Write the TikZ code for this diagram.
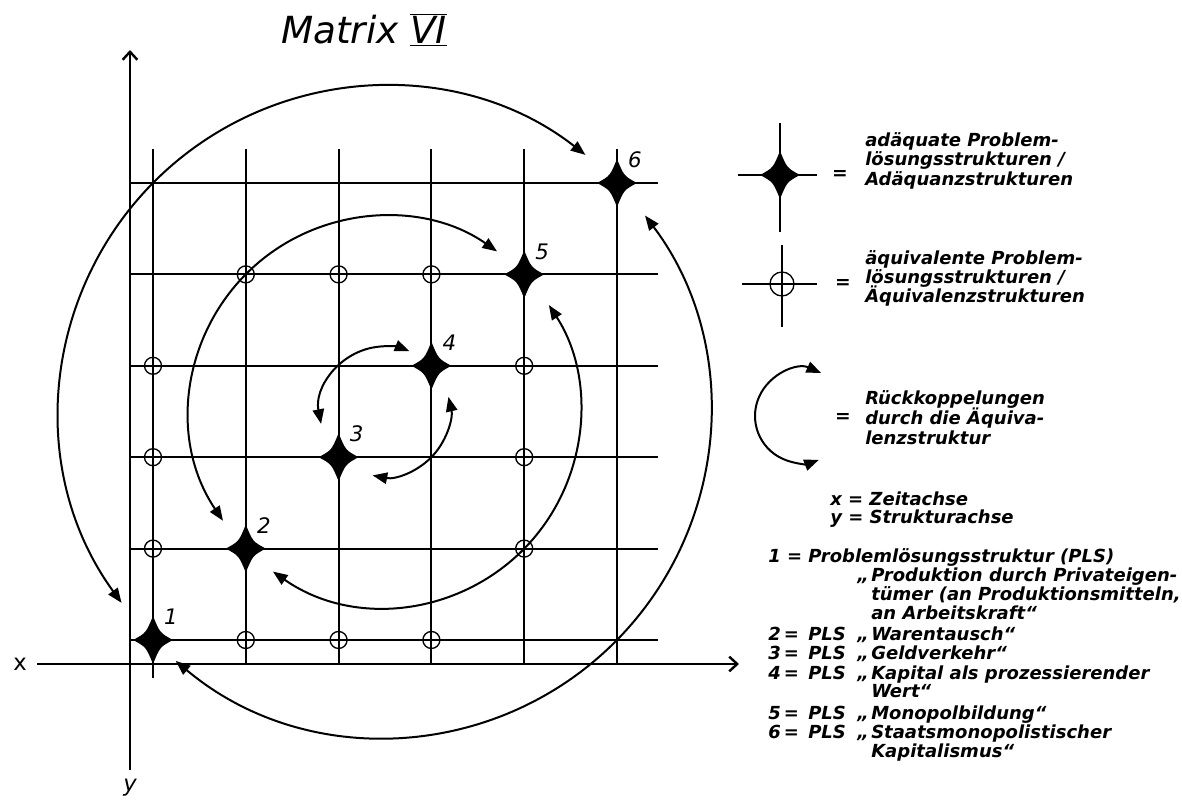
\documentclass[tikz,border=0pt]{standalone}
\usepackage{fontspec}
\setmainfont{DejaVu Sans}
\usetikzlibrary{arrows.meta}

\tikzset{
  gitter/.style={line width=1.4pt},
  achse/.style={line width=1.8pt, -{Straight Barb[length=6pt,width=11pt]}},
  rueck/.style={line width=1.5pt, {Triangle[length=11pt,width=8.5pt]}-{Triangle[length=11pt,width=8.5pt]}},
  aeq/.style={draw, circle, inner sep=0pt, minimum size=12.75pt, line width=1pt},
  txt/.style={anchor=base west, inner sep=0pt, font=\fontsize{13.5}{14.5}\selectfont\bfseries\itshape},
  gl/.style={inner sep=0pt, font=\fontsize{14}{14}\selectfont\bfseries},
  nr/.style={inner sep=0pt, font=\fontsize{16}{16}\selectfont\itshape},
  adq/.pic={\fill (0,24) .. controls (7,7) .. (20,0) .. controls (7,-7) .. (0,-24)
              .. controls (-7,-7) .. (-20,0) .. controls (-7,7) .. cycle;}
}

\begin{document}
\begin{tikzpicture}[x=0.75pt, y=0.75pt]
  \path[use as bounding box] (0,0) rectangle (1182,802);
  \coordinate (o) at (130,138);
  \coordinate (m) at (385,390.5);
  \foreach \i in {1,...,6}
    \foreach \j in {1,...,6}
      \coordinate (g\i\j) at ({60.2+92.8*\i},{70.6+91.4*\j});

  % Titel
  \node[font=\fontsize{28}{28}\selectfont\itshape] (titel) at (364,772) {Matrix $\overline{\underline{\hbox{VI}}}$};

  % Achsen
  \draw[achse] (130,32) -- (130,752);
  \draw[achse] (37,138) -- (739,138);
  \node[font=\fontsize{17}{17}\selectfont] (xl) at (20,138) {x};
  \node[font=\fontsize{17}{17}\selectfont\itshape] (yl) at (130,14) {y};

  % Gitter
  \foreach \i in {1,...,6}{
    \draw[gitter] (g\i1 |- o) -- (g\i6) -- ++(0,34);
    \draw[gitter] (o |- g1\i) -- (g6\i) -- ++(41,0);
  }
  \draw[gitter] (g11) -- ++(0,-38);

  % Aequivalenzstrukturen
  \foreach \i/\j in {2/1,3/1,4/1,1/2,5/2,1/3,5/3,1/4,5/4,2/5,3/5,4/5}
    \node[aeq] (e\i\j) at (g\i\j) {};

  % Adaequanzstrukturen
  \foreach \i in {1,...,6}{
    \pic at (g\i\i) {adq};
    \node[nr] (n\i) at ([shift={(18,23)}]g\i\i) {\i};
  }

  % Rueckkoppelungen
  \foreach \r/\a/\b/\c/\d in {325.6/216/52/230/397, 195.4/214/55/235/393, 65.1/191/68/259/373}{
    \draw[rueck] ([shift={(\a:\r)}]m) arc[start angle=\a, end angle=\b, radius=\r];
    \draw[rueck] ([shift={(\c:\r)}]m) arc[start angle=\c, end angle=\d, radius=\r];
  }

  % Legende
  \draw[gitter] (780,679) -- (780,570);
  \draw[gitter] (738,627) -- (817,627);
  \pic at (780,627) {adq};
  \node[gl] (gl1) at (840,627) {=};
  \draw[gitter] (782,557) -- (782,475);
  \draw[gitter] (742,518) -- (817,518);
  \node[aeq, minimum size=18pt] (la) at (782,518) {};
  \node[gl] (gl2) at (843,518) {=};
  \coordinate (lc) at (802,386);
  \draw[rueck] ([shift={(66:47)}]lc) arc[start angle=66, end angle=291, radius=47];
  \node[gl] (gl3) at (843,384) {=};
  \foreach \y/\t in {655/adäquate Problem-, 636/{lösungsstrukturen /}, 616/Adäquanzstrukturen,
                     537/äquivalente Problem-, 518/{lösungsstrukturen /}, 499/Äquivalenzstrukturen,
                     397/Rückkoppelungen, 377/durch die Äquiva-, 357/lenzstruktur}
    \node[txt] (l\y) at (865,\y) {\t};
  \node[txt] (zx) at (830,296) {x = Zeitachse};
  \node[txt] (zy) at (830,278) {y = Strukturachse};

  % Liste
  \node[txt] (k1) at (768,239) {1 =};
  \node[txt] (p1) at (808,239) {Problemlösungsstruktur (PLS)};
  \node[txt] (q1) at (857,220) {„};
  \foreach \n/\y in {2/161, 3/142, 4/122, 5/82, 6/63}{
    \node[txt] (k\n) at (768,\y) {\n\,=};
    \node[txt] (p\n) at (808,\y) {PLS};
    \node[txt] (q\n) at (857,\y) {„};
  }
  \foreach \y/\t in {220/Produktion durch Privateigen-, 201/{tümer (an Produktionsmitteln,},
                     182/an Arbeitskraft“, 161/Warentausch“, 142/Geldverkehr“,
                     122/Kapital als prozessierender, 104/Wert“, 82/Monopolbildung“,
                     63/Staatsmonopolistischer, 44/Kapitalismus“}
    \node[txt] (t\y) at (871,\y) {\t};
\end{tikzpicture}
\end{document}
